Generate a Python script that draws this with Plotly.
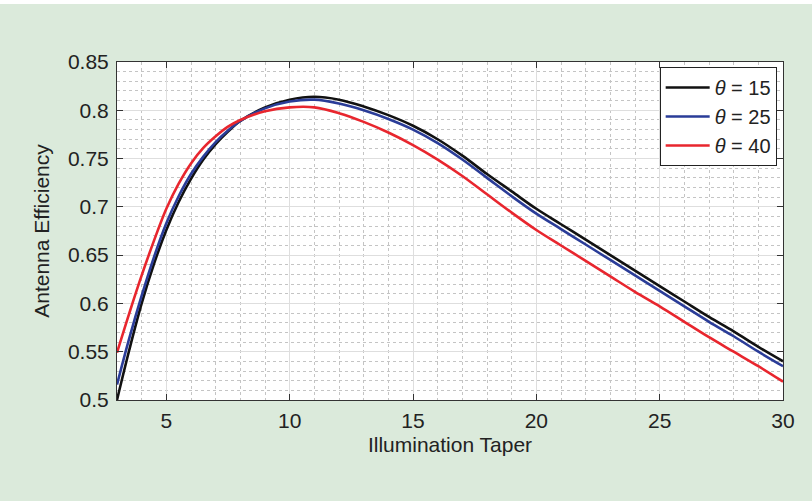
import plotly.graph_objects as go

taper = [3, 3.5, 4, 4.5, 5, 5.5, 6, 6.5, 7, 7.5, 8, 9, 10, 11, 12, 13, 14, 15, 16, 17,
         18, 19, 20, 21, 22, 23, 24, 25, 26, 27, 28, 29, 30]

eff_15 = [0.500, 0.552, 0.600, 0.641, 0.676, 0.705, 0.729, 0.749, 0.765, 0.778, 0.789,
          0.803, 0.811, 0.814, 0.811, 0.804, 0.795, 0.784, 0.770, 0.753, 0.734,
          0.716, 0.698, 0.682, 0.666, 0.650, 0.634, 0.618, 0.602, 0.586, 0.571,
          0.555, 0.540]
eff_25 = [0.516, 0.564, 0.608, 0.648, 0.683, 0.711, 0.734, 0.752, 0.767, 0.779, 0.789,
          0.802, 0.809, 0.811, 0.807, 0.800, 0.791, 0.780, 0.766, 0.749, 0.730,
          0.711, 0.693, 0.677, 0.661, 0.645, 0.629, 0.613, 0.597, 0.581, 0.566,
          0.550, 0.535]
eff_40 = [0.549, 0.590, 0.629, 0.665, 0.698, 0.724, 0.745, 0.761, 0.773, 0.783, 0.790,
          0.799, 0.803, 0.803, 0.797, 0.788, 0.777, 0.764, 0.749, 0.732, 0.713,
          0.694, 0.676, 0.660, 0.644, 0.628, 0.612, 0.597, 0.581, 0.565, 0.550,
          0.535, 0.519]

series_names = ["<i>θ</i> = 15", "<i>θ</i> = 25", "<i>θ</i> = 40"]
series_vals = [eff_15, eff_25, eff_40]
series_colors = ["#111111", "#2a3c98", "#e8262e"]

x_ticks = [5, 10, 15, 20, 25, 30]
y_ticks = [0.5, 0.55, 0.6, 0.65, 0.7, 0.75, 0.8, 0.85]
y_ticklabels = ["0.5", "0.55", "0.6", "0.65", "0.7", "0.75", "0.8", "0.85"]

FONT = "Liberation Sans, Arial, sans-serif"
BG = "#dbeadb"
FS = 21

fig = go.Figure()
for name, vals, col in zip(series_names, series_vals, series_colors):
    fig.add_trace(go.Scatter(x=taper, y=vals, mode="lines", name=name,
                             line=dict(color=col, width=2.6, shape="spline", smoothing=1.0)))

axis_common = dict(
    showline=True, linecolor="#333333", linewidth=1, mirror="ticks",
    ticks="inside", ticklen=6, tickcolor="#333333", tickwidth=1.3,
    showgrid=True, gridcolor="#dedede", gridwidth=1,
    zeroline=False,
    tickfont=dict(family=FONT, size=FS, color="#222222"),
)

fig.update_xaxes(range=[3, 30], tickvals=x_ticks,
                 minor=dict(dtick=1, tick0=3, showgrid=True, gridcolor="#c4c4c4",
                            griddash="dot", gridwidth=1, ticks=""),
                 title=dict(text="Illumination Taper", font=dict(family=FONT, size=FS, color="#222222"),
                            standoff=6),
                 ticklabelstandoff=2,
                 **axis_common)
fig.update_yaxes(range=[0.5, 0.85], tickvals=y_ticks, ticktext=y_ticklabels,
                 minor=dict(dtick=0.01, tick0=0.5, showgrid=True, gridcolor="#c4c4c4",
                            griddash="dot", gridwidth=1, ticks=""),
                 title=dict(text="Antenna Efficiency", font=dict(family=FONT, size=FS, color="#222222"),
                            standoff=12),
                 ticklabelstandoff=3,
                 **axis_common)

fig.update_layout(
    width=812, height=501,
    margin=dict(l=117, r=29, t=62, b=101, pad=0),
    paper_bgcolor=BG, plot_bgcolor="white",
    font=dict(family=FONT, size=FS, color="#222222"),
    legend=dict(x=0.9905, y=0.985, xanchor="right", yanchor="top",
                bgcolor="white", bordercolor="#222222", borderwidth=1,
                font=dict(family=FONT, size=20, color="#222222"),
                itemwidth=44, tracegroupgap=0),
    showlegend=True,
)
fig.add_shape(type="rect", xref="paper", yref="paper",
              x0=-0.2, x1=1.1, y0=1 + 58 / 338, y1=1.2,
              fillcolor="white", line=dict(width=0), layer="below")

fig.write_html("out.html")
